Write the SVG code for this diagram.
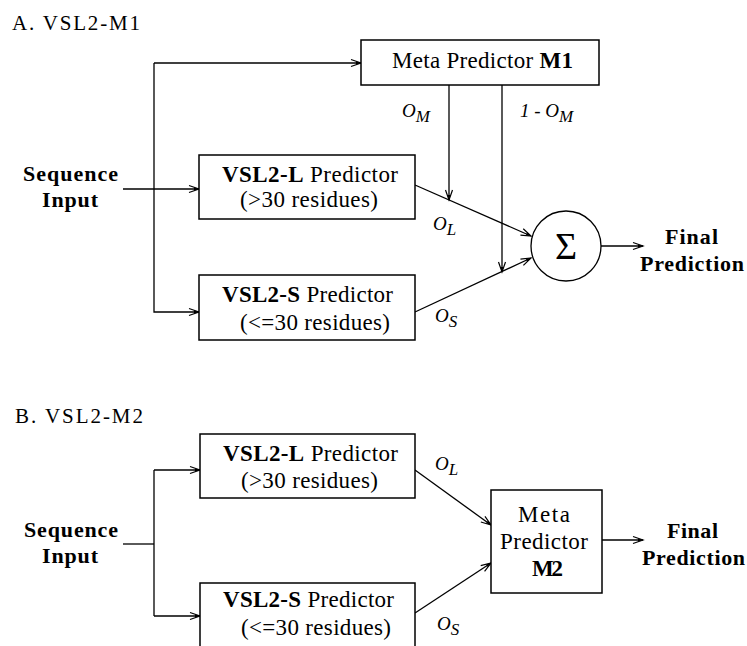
<svg xmlns="http://www.w3.org/2000/svg" width="747" height="646" viewBox="0 0 747 646" font-family="Liberation Serif, DejaVu Serif, serif">
<style>
text{font-family:'Liberation Serif','Times New Roman','DejaVu Serif',serif;fill:#000}
.t{font-size:23px}
.tb{font-size:22px;font-weight:bold}
.b{font-weight:bold}
.ttl{font-size:21px}
.lab{font-size:19px;font-style:italic}
.sub{font-size:17px}
.box{fill:#fff;stroke:#000;stroke-width:1.5}
.ln{fill:none;stroke:#000;stroke-width:1.3}
</style>
<defs>
<marker id="ah" markerUnits="userSpaceOnUse" markerWidth="14" markerHeight="10" refX="12" refY="5" orient="auto" overflow="visible">
<path d="M2,1.5 L12,5 L2,8.5" fill="none" stroke="#000" stroke-width="1.2"/>
<path d="M7,3.4 L12,5 L7,6.6z" fill="#000"/>
</marker>
</defs>
<rect width="747" height="646" fill="#fff"/>

<text class="ttl" x="12" y="30" textLength="128">A. VSL2-M1</text>
<text class="ttl" x="15" y="423" textLength="128">B. VSL2-M2</text>

<g id="connectors">
<polyline class="ln" points="154,63 154,312 199,312" marker-end="url(#ah)"/>
<line class="ln" x1="154" y1="63" x2="361" y2="63" marker-end="url(#ah)"/>
<line class="ln" x1="123" y1="189" x2="199" y2="189" marker-end="url(#ah)"/>
<line class="ln" x1="449" y1="85" x2="449" y2="200" marker-end="url(#ah)"/>
<line class="ln" x1="502" y1="85" x2="502" y2="272" marker-end="url(#ah)"/>
<line class="ln" x1="415" y1="185" x2="531" y2="236" marker-end="url(#ah)"/>
<line class="ln" x1="415" y1="312" x2="531" y2="258" marker-end="url(#ah)"/>
<line class="ln" x1="601" y1="246" x2="643" y2="246" marker-end="url(#ah)"/>
<line class="ln" x1="123" y1="544" x2="154" y2="544"/>
<line class="ln" x1="154" y1="470" x2="154" y2="616"/>
<line class="ln" x1="154" y1="470" x2="200" y2="470" marker-end="url(#ah)"/>
<line class="ln" x1="154" y1="616" x2="200" y2="616" marker-end="url(#ah)"/>
<line class="ln" x1="415" y1="470" x2="491" y2="525" marker-end="url(#ah)"/>
<line class="ln" x1="415" y1="613" x2="491" y2="563" marker-end="url(#ah)"/>
<line class="ln" x1="602" y1="540" x2="643" y2="540" marker-end="url(#ah)"/>
</g>

<g id="labels">
<text class="lab" x="402" y="117">O<tspan class="sub" dy="5">M</tspan></text>
<text class="lab" x="520" y="117">1 - O<tspan class="sub" dy="5">M</tspan></text>
<text class="lab" x="433" y="230">O<tspan class="sub" dy="5">L</tspan></text>
<text class="lab" x="435" y="322">O<tspan class="sub" dy="5">S</tspan></text>
<text class="lab" x="435" y="470">O<tspan class="sub" dy="5">L</tspan></text>
<text class="lab" x="437" y="630">O<tspan class="sub" dy="5">S</tspan></text>
</g>

<g id="seqA">
<text class="tb" x="23" y="181" textLength="95">Sequence</text>
<text class="tb" x="42" y="207" textLength="56">Input</text>
</g>
<g id="metaM1">
<rect class="box" x="361" y="40" width="238" height="45"/>
<text class="t" x="392" y="68" textLength="181">Meta Predictor <tspan class="b">M1</tspan></text>
</g>
<g id="vslLA">
<rect class="box" x="199" y="155" width="216" height="64"/>
<text class="t" x="222" y="182" textLength="176"><tspan class="b">VSL2-L</tspan> Predictor</text>
<text class="t" x="240" y="207" textLength="138">(&gt;30 residues)</text>
</g>
<g id="vslSA">
<rect class="box" x="199" y="275" width="216" height="65"/>
<text class="t" x="222" y="302" textLength="171"><tspan class="b">VSL2-S</tspan> Predictor</text>
<text class="t" x="240" y="330" textLength="150">(&lt;=30 residues)</text>
</g>
<g id="sigma">
<circle cx="566" cy="246" r="35" fill="#fff" stroke="#000" stroke-width="1.3"/>
<text x="566" y="259" text-anchor="middle" style="font-size:38px">Σ</text>
</g>
<g id="finalA">
<text class="tb" x="665" y="244" textLength="53">Final</text>
<text class="tb" x="640" y="271" textLength="104">Prediction</text>
</g>

<g id="seqB">
<text class="tb" x="24" y="537" textLength="94">Sequence</text>
<text class="tb" x="42" y="563" textLength="56">Input</text>
</g>
<g id="vslLB">
<rect class="box" x="200" y="434" width="215" height="64"/>
<text class="t" x="223" y="461" textLength="175"><tspan class="b">VSL2-L</tspan> Predictor</text>
<text class="t" x="241" y="488" textLength="137">(&gt;30 residues)</text>
</g>
<g id="vslSB">
<rect class="box" x="200" y="583" width="215" height="70"/>
<text class="t" x="223" y="607" textLength="171"><tspan class="b">VSL2-S</tspan> Predictor</text>
<text class="t" x="241" y="635" textLength="150">(&lt;=30 residues)</text>
</g>
<g id="metaM2">
<rect class="box" x="491" y="490" width="111" height="103"/>
<text class="t" x="518" y="522" textLength="52">Meta</text>
<text class="t" x="500" y="549" textLength="88">Predictor</text>
<text class="t b" x="532" y="576" textLength="31">M2</text>
</g>
<g id="finalB">
<text class="tb" x="667" y="538" textLength="51">Final</text>
<text class="tb" x="642" y="565" textLength="103">Prediction</text>
</g>
</svg>
